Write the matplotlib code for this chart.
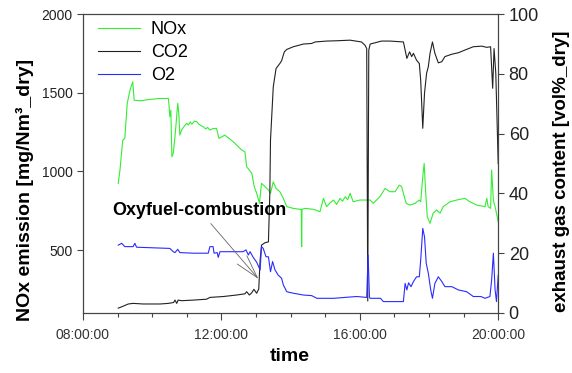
import numpy as np
import matplotlib.pyplot as plt
from matplotlib.lines import Line2D

plt.rcParams['font.family'] = ['Liberation Sans', 'DejaVu Sans']

# time in hours of the day
nox_t = [9.02, 9.07, 9.15, 9.21, 9.28, 9.36, 9.44, 9.48, 9.65, 9.94, 10.23, 10.47,
         10.49, 10.51, 10.54, 10.57, 10.61, 10.66, 10.74, 10.77, 10.80, 10.85, 10.92,
         11.00, 11.05, 11.10, 11.15, 11.22, 11.29, 11.35, 11.42, 11.48, 11.55, 11.60,
         11.67, 11.75, 11.86, 11.93, 12.10, 12.34, 12.59, 12.68, 12.73, 12.80, 12.88,
         12.95, 13.02, 13.10, 13.16, 13.26, 13.36, 13.42, 13.50, 13.58, 13.69, 13.79,
         13.89, 14.08, 14.27, 14.31, 14.32, 14.33, 14.42, 14.66, 14.85, 14.95, 15.04,
         15.14, 15.24, 15.33, 15.43, 15.50, 15.58, 15.65, 15.72, 15.81, 16.00, 16.30,
         16.39, 16.58, 16.73, 16.87, 17.02, 17.14, 17.21, 17.26, 17.34, 17.45, 17.60,
         17.72, 17.76, 17.82, 17.86, 17.90, 17.95, 18.03, 18.12, 18.22, 18.32, 18.41,
         18.61, 18.80, 19.04, 19.18, 19.38, 19.62, 19.67, 19.71, 19.78, 19.81, 19.86,
         19.91, 20.00]
nox = [924, 1009, 1199, 1210, 1433, 1517, 1570, 1453, 1449, 1458, 1464, 1464,
       1411, 1348, 1390, 1093, 1115, 1220, 1433, 1369, 1231, 1263, 1285,
       1306, 1295, 1315, 1300, 1320, 1316, 1300, 1290, 1284, 1270, 1280,
       1263, 1272, 1274, 1210, 1231, 1189, 1136, 1125, 1030, 1010, 988,
       903, 861, 797, 924, 903, 882, 861, 934, 892, 871, 829,
       776, 765, 759, 759, 521, 759, 765, 759, 744, 829, 776,
       800, 818, 790, 829, 810, 839, 820, 861, 807, 818, 818,
       797, 839, 892, 871, 871, 913, 903, 861, 797, 786, 797,
       818, 807, 966, 1051, 882, 712, 670, 734, 755, 734, 776,
       807, 818, 829, 807, 786, 776, 829, 776, 765, 1009, 818,
       776, 680]

co2_t = [9.02, 9.17, 9.31, 9.45, 9.74, 10.23, 10.47, 10.62, 10.66, 10.71, 10.75, 10.85,
         11.19, 11.57, 11.67, 12.06, 12.44, 12.68, 12.73, 12.81, 12.88, 12.94, 13.02,
         13.08, 13.12, 13.16, 13.26, 13.36, 13.40, 13.42, 13.50, 13.58, 13.69, 13.74,
         13.82, 13.89, 14.08, 14.37, 14.61, 14.71, 15.04, 15.33, 15.72, 16.05, 16.15,
         16.20, 16.23, 16.26, 16.30, 16.63, 16.87, 17.26, 17.31, 17.36, 17.44, 17.50,
         17.55, 17.64, 17.72, 17.76, 17.82, 17.87, 17.93, 17.98, 18.03, 18.10, 18.17,
         18.27, 18.37, 18.46, 18.66, 18.85, 19.04, 19.28, 19.52, 19.67, 19.78, 19.84,
         19.88, 19.93, 20.00]
co2 = [1.6, 2.3, 3.0, 3.2, 3.0, 3.0, 3.2, 3.5, 4.3, 3.2, 4.3, 4.1,
       4.3, 4.6, 5.2, 5.5, 6.0, 6.4, 7.1, 6.0, 6.8, 7.9, 6.6,
       8.0, 17.7, 22.7, 23.5, 23.8, 40.0, 57.9, 75.7, 81.8, 83.5, 84.4,
       87.4, 88.2, 89.1, 90.0, 90.2, 90.7, 91.0, 91.1, 91.3, 90.7, 89.6,
       88.5, 4.0, 88.0, 90.0, 91.0, 91.0, 90.7, 88.0, 85.2, 87.4, 85.8,
       86.9, 84.6, 83.5, 77.9, 61.8, 73.5, 80.2, 82.4, 86.9, 90.7, 86.9,
       83.7, 84.1, 85.8, 86.6, 87.1, 88.0, 89.1, 89.3, 88.9, 89.1, 75.2,
       88.5, 80.2, 50.0]

o2_t = [9.02, 9.12, 9.21, 9.45, 9.50, 9.55, 10.51, 10.61, 10.66, 10.74, 10.80, 11.19,
        11.62, 11.67, 11.76, 11.79, 11.88, 11.91, 11.96, 12.63, 12.71, 12.78, 12.83,
        12.92, 13.02, 13.12, 13.16, 13.21, 13.29, 13.36, 13.42, 13.48, 13.55, 13.64,
        13.74, 13.79, 13.89, 14.08, 14.37, 14.61, 14.76, 15.24, 15.91, 16.20, 16.24,
        16.28, 16.30, 16.60, 16.68, 17.26, 17.31, 17.36, 17.41, 17.48, 17.55, 17.64,
        17.72, 17.76, 17.82, 17.87, 17.92, 17.98, 18.05, 18.10, 18.17, 18.27, 18.37,
        18.46, 18.66, 18.85, 19.09, 19.28, 19.50, 19.62, 19.76, 19.81, 19.86, 19.91,
        19.95, 20.00]
o2 = [22.7, 23.3, 22.2, 22.2, 23.3, 22.0, 21.6, 20.5, 20.2, 21.3, 20.2, 20.0,
      20.0, 22.2, 22.2, 20.0, 20.2, 18.6, 20.5, 20.5, 21.1, 19.4, 20.5,
      18.6, 17.0, 14.4, 22.2, 21.6, 18.8, 18.8, 13.8, 17.2, 14.4, 12.7,
      11.6, 9.4, 7.1, 6.6, 6.0, 5.8, 4.9, 4.9, 5.5, 5.2, 19.4,
      5.2, 4.9, 4.9, 3.8, 3.8, 9.9, 7.7, 10.1, 8.8, 10.5, 12.1,
      12.1, 17.7, 28.3, 25.5, 16.6, 13.3, 7.7, 4.9, 9.9, 12.1, 10.5,
      8.8, 8.8, 7.7, 7.1, 5.5, 5.5, 4.9, 5.5, 11.0, 20.0, 7.7,
      3.8, 12.7]

hour_ticks = [8, 12, 16, 20]
hour_labels = ['%02d:00:00' % h for h in hour_ticks]

green = '#33ee33'
black = '#222222'
blue = '#2b2bff'
spine_col = '#444444'

fig = plt.figure(figsize=(5.72, 3.73), dpi=100)
ax = fig.add_axes([0.145, 0.161, 0.726, 0.801])
ax2 = ax.twinx()

ax.plot(nox_t, nox, color=green, lw=0.8)
ax2.plot(co2_t, co2, color=black, lw=0.8)
ax2.plot(o2_t, o2, color=blue, lw=0.8)

ax.set_xlim(8, 20)
ax.set_ylim(100, 2000)
ax2.set_ylim(0, 100)

ax.set_xticks(hour_ticks)
ax.set_xticklabels(hour_labels, fontsize=10, color='#333333')
ax.set_xticks(np.arange(8, 21, 1), minor=True)
ax.set_yticks([500, 1000, 1500, 2000])
ax.tick_params(axis='y', labelsize=10, length=4, width=0.8, color=spine_col, labelcolor='#222222')
ax.tick_params(axis='x', which='major', length=5, width=0.8, color=spine_col, pad=6)
ax.tick_params(axis='x', which='minor', length=3, width=0.8, color=spine_col)
ax2.set_yticks([0, 20, 40, 60, 80, 100])
ax2.tick_params(axis='y', labelsize=13, length=4, width=0.8, color=spine_col, labelcolor='#222222')

for a in (ax, ax2):
    for s in a.spines.values():
        s.set_color(spine_col)
        s.set_linewidth(0.8)

handles = [Line2D([], [], color=green, lw=0.8),
           Line2D([], [], color=black, lw=0.8),
           Line2D([], [], color=blue, lw=0.8)]
ax2.legend(handles, ['NOx', 'CO2', 'O2'], loc='upper left', frameon=False, fontsize=13,
           handlelength=2.3, handletextpad=0.6, labelspacing=0.32,
           borderaxespad=0.0, bbox_to_anchor=(0.02, 1.0))

ax2.annotate('Oxyfuel-combustion', xy=(13.07, 11.4), xytext=(11.36, 34.4),
             fontsize=13, fontweight='bold', ha='center', va='center',
             arrowprops=dict(arrowstyle='->,head_length=1.3,head_width=0.35',
                             color='#666666', lw=0.6, shrinkB=0))

fig.text(0.044, 0.49, 'NOx emission [mg/Nm³_dry]', rotation=90, fontsize=14,
         fontweight='bold', ha='center', va='center')
fig.text(0.982, 0.541, 'exhaust gas content [vol%_dry]', rotation=90, fontsize=13.5,
         fontweight='bold', ha='center', va='center')
fig.text(0.507, 0.043, 'time', fontsize=14, fontweight='bold', ha='center', va='center')

fig.savefig('out.png', dpi=100)
